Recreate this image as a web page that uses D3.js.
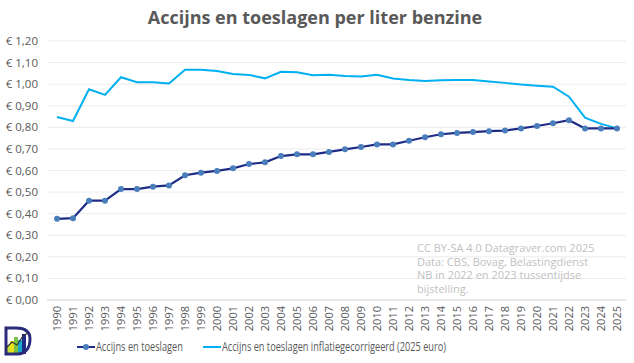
<!DOCTYPE html>
<html>
<head>
<meta charset="utf-8">
<script src="https://cdn.jsdelivr.net/npm/d3@7"></script>
<style>
  body { margin: 0; background: #fff; }
  text { font-family: "Open Sans", "Noto Sans", sans-serif; }
</style>
</head>
<body>
<svg id="chart" width="634" height="363"></svg>
<script>
const years = d3.range(1990, 2026)

const accijns = [
    0.376, 0.379, 0.460, 0.460, 0.514, 0.514, 0.525, 0.531, 0.578, 0.590,
    0.598, 0.610, 0.630, 0.638, 0.667, 0.675, 0.675, 0.686, 0.698, 0.709,
    0.721, 0.721, 0.738, 0.754, 0.768, 0.774, 0.778, 0.782, 0.785, 0.795,
    0.806, 0.819, 0.833, 0.795, 0.795, 0.795
]

const accijnsInflatie = [
    0.848, 0.829, 0.976, 0.950, 1.032, 1.009, 1.009, 1.003, 1.067, 1.067,
    1.061, 1.047, 1.043, 1.027, 1.057, 1.055, 1.041, 1.044, 1.038, 1.035,
    1.044, 1.026, 1.019, 1.015, 1.018, 1.019, 1.019, 1.012, 1.006, 0.998,
    0.993, 0.988, 0.942, 0.845, 0.816, 0.795
]

const yTicks = d3.range(0, 1.21, 0.1)
const seriesNames = ['Accijns en toeslagen', 'Accijns en toeslagen inflatiegecorrigeerd (2025 euro)']
const sourceLines = [
    'CC BY-SA 4.0 Datagraver.com 2025',
    'Data: CBS, Bovag, Belastingdienst',
    'NB in 2022 en 2023 tussentijdse',
    'bijstelling.'
]

const svg = d3.select('#chart')

const x = d3.scalePoint()
    .domain(years)
    .range([57, 617])

const y = d3.scaleLinear()
    .domain([0, 1.2])
    .range([300, 41])

const fmt = v => '€ ' + v.toFixed(2).replace('.', ',')

// title
svg.append('text')
    .attr('x', 315)
    .attr('y', 24)
    .attr('text-anchor', 'middle')
    .style('font-size', '18px')
    .style('font-weight', 'bold')
    .style('fill', '#595959')
    .text('Accijns en toeslagen per liter benzine')

// gridlines
svg.append('g')
    .selectAll('line')
    .data(yTicks.slice(1))
    .enter().append('line')
    .attr('x1', 47).attr('x2', 626)
    .attr('y1', d => y(d)).attr('y2', d => y(d))
    .style('stroke', '#ececec')
    .style('stroke-width', 1)

// y axis labels
svg.append('g')
    .selectAll('text')
    .data(yTicks)
    .enter().append('text')
    .attr('x', 38)
    .attr('y', d => y(d) + 4)
    .attr('text-anchor', 'end')
    .style('font-size', '11.5px')
    .style('fill', '#595959')
    .text(fmt)

// source note
svg.append('g')
    .selectAll('text')
    .data(sourceLines)
    .enter().append('text')
    .attr('x', 417)
    .attr('y', (d, i) => 252 + i * 13.7)
    .style('font-size', '11px')
    .style('fill', '#bfbfbf')
    .text(d => d)

// x axis
svg.append('line')
    .attr('x1', 47).attr('x2', 626)
    .attr('y1', y(0)).attr('y2', y(0))
    .style('stroke', '#d0d0d0')

svg.append('g')
    .selectAll('text')
    .data(years)
    .enter().append('text')
    .attr('transform', d => `translate(${x(d) + 4},306) rotate(-90)`)
    .attr('text-anchor', 'end')
    .style('font-size', '11px')
    .style('fill', '#595959')
    .text(d => d)

const line = d3.line()
    .x((d, i) => x(years[i]))
    .y(d => y(d))

svg.append('path')
    .datum(accijnsInflatie)
    .attr('d', line)
    .style('fill', 'none')
    .style('stroke', '#00b0f0')
    .style('stroke-width', 2)

svg.append('path')
    .datum(accijns)
    .attr('d', line)
    .style('fill', 'none')
    .style('stroke', '#1f2c86')
    .style('stroke-width', 2.2)

svg.append('g')
    .selectAll('circle')
    .data(accijns)
    .enter().append('circle')
    .attr('cx', (d, i) => x(years[i]))
    .attr('cy', d => y(d))
    .attr('r', 3)
    .style('fill', '#4a7ebb')

// legend
const legend = svg.append('g')
const legendItems = [
    { name: seriesNames[0], x: 77, width: 87, color: '#1f2c86', marker: true },
    { name: seriesNames[1], x: 203, width: 224, color: '#00b0f0', marker: false }
]
legendItems.forEach(item => {
    legend.append('line')
        .attr('x1', item.x).attr('x2', item.x + 18)
        .attr('y1', 347).attr('y2', 347)
        .style('stroke', item.color)
        .style('stroke-width', 2)
    if (item.marker) {
        legend.append('circle')
            .attr('cx', item.x + 9).attr('cy', 347).attr('r', 3)
            .style('fill', '#4a7ebb')
    }
    legend.append('text')
        .attr('x', item.x + 19)
        .attr('y', 351)
        .attr('textLength', item.width)
        .attr('lengthAdjust', 'spacingAndGlyphs')
        .style('font-size', '12px')
        .style('fill', '#595959')
        .text(item.name)
})

// logo
const logo = svg.append('g').attr('transform', 'translate(3,324)')
const barColors = ['#c6e03a', '#e9e21f', '#7cc242', '#1ba6c9', '#1f2c86']
const barHeights = [9, 13, 17, 14, 20]
barColors.forEach((c, i) => {
    logo.append('rect')
        .attr('x', 3 + i * 4).attr('y', 30 - barHeights[i])
        .attr('width', 4).attr('height', barHeights[i])
        .style('fill', c)
})
logo.append('path')
    .attr('d', 'M3,4 L3,30 L14,30 C24,30 27,22 27,15 C27,7 21,4 13,4 Z')
    .style('fill', 'none')
    .style('stroke', '#2a2a7a')
    .style('stroke-width', 3)
logo.append('path')
    .attr('d', 'M3,24 L9,18 L14,21 L20,12 L25,9')
    .style('fill', 'none')
    .style('stroke', '#333')
    .style('stroke-width', 1.2)
</script>
</body>
</html>
